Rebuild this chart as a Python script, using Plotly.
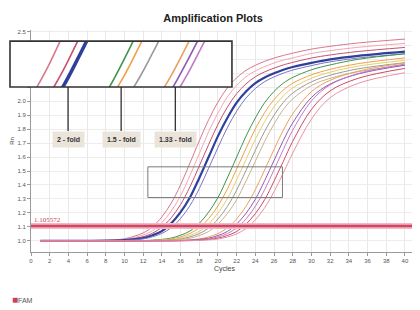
import plotly.graph_objects as go

# ---------------- data ----------------
cycles = [1, 6, 8, 10, 12, 13, 14, 15, 16, 17, 18, 19, 20, 21, 22, 23, 24, 25, 26, 27, 28, 30, 32, 35, 40]

curve_A = [1.000, 1.000, 1.003, 1.015, 1.057, 1.101, 1.172, 1.270, 1.401, 1.557, 1.716, 1.867, 1.994, 2.095, 2.168, 2.221, 2.257, 2.286, 2.309, 2.328, 2.344, 2.373, 2.393, 2.417, 2.445]
curve_B = [1.000, 1.000, 1.002, 1.010, 1.042, 1.073, 1.130, 1.213, 1.322, 1.468, 1.624, 1.780, 1.915, 2.030, 2.113, 2.175, 2.217, 2.248, 2.274, 2.295, 2.310, 2.342, 2.362, 2.386, 2.414]
curve_C = [1.000, 1.000, 1.002, 1.007, 1.030, 1.055, 1.097, 1.165, 1.260, 1.386, 1.536, 1.689, 1.834, 1.957, 2.054, 2.124, 2.175, 2.210, 2.237, 2.260, 2.278, 2.309, 2.331, 2.356, 2.385]
curve_D = [1.000, 1.000, 1.001, 1.005, 1.020, 1.040, 1.070, 1.125, 1.205, 1.310, 1.450, 1.600, 1.750, 1.880, 1.990, 2.070, 2.130, 2.170, 2.200, 2.225, 2.245, 2.275, 2.300, 2.325, 2.355]
curve_E = [1.000, 1.000, 1.000, 1.003, 1.014, 1.029, 1.053, 1.094, 1.160, 1.252, 1.374, 1.520, 1.668, 1.810, 1.929, 2.023, 2.091, 2.140, 2.174, 2.201, 2.223, 2.255, 2.282, 2.309, 2.339]
curve_F = [1.000, 1.000, 1.000, 1.000, 1.002, 1.005, 1.010, 1.020, 1.040, 1.070, 1.125, 1.205, 1.310, 1.450, 1.600, 1.750, 1.880, 1.990, 2.070, 2.130, 2.170, 2.225, 2.260, 2.300, 2.340]
curve_G = [1.000, 1.000, 1.000, 1.000, 1.001, 1.003, 1.007, 1.014, 1.028, 1.053, 1.093, 1.159, 1.250, 1.370, 1.515, 1.662, 1.802, 1.919, 2.012, 2.080, 2.129, 2.189, 2.228, 2.269, 2.310]
curve_H = [1.000, 1.000, 1.000, 1.000, 1.001, 1.002, 1.005, 1.010, 1.019, 1.039, 1.068, 1.121, 1.199, 1.301, 1.437, 1.582, 1.728, 1.854, 1.960, 2.038, 2.096, 2.164, 2.208, 2.251, 2.293]
curve_I = [1.000, 1.000, 1.000, 1.000, 1.000, 1.001, 1.003, 1.007, 1.013, 1.028, 1.052, 1.091, 1.156, 1.245, 1.363, 1.504, 1.648, 1.785, 1.900, 1.992, 2.058, 2.139, 2.186, 2.232, 2.276]
curve_J = [1.000, 1.000, 1.000, 1.000, 1.000, 1.001, 1.002, 1.005, 1.010, 1.019, 1.038, 1.067, 1.119, 1.195, 1.295, 1.428, 1.570, 1.713, 1.836, 1.941, 2.017, 2.112, 2.164, 2.211, 2.259]
curve_K = [1.000, 1.000, 1.000, 1.000, 1.000, 1.000, 1.000, 1.001, 1.003, 1.007, 1.014, 1.028, 1.052, 1.092, 1.157, 1.247, 1.367, 1.509, 1.655, 1.793, 1.910, 2.069, 2.150, 2.215, 2.275]
curve_L = [1.000, 1.000, 1.000, 1.000, 1.000, 1.000, 1.000, 1.001, 1.002, 1.005, 1.010, 1.019, 1.038, 1.067, 1.120, 1.197, 1.298, 1.432, 1.576, 1.720, 1.845, 2.027, 2.123, 2.195, 2.258]
curve_M = [1.000, 1.000, 1.000, 1.000, 1.000, 1.000, 1.000, 1.000, 1.001, 1.003, 1.007, 1.014, 1.028, 1.052, 1.092, 1.157, 1.247, 1.367, 1.509, 1.655, 1.793, 2.002, 2.117, 2.198, 2.266]
curve_N = [1.000, 1.000, 1.000, 1.000, 1.000, 1.000, 1.000, 1.000, 1.001, 1.002, 1.005, 1.010, 1.019, 1.038, 1.067, 1.119, 1.195, 1.295, 1.428, 1.570, 1.713, 1.941, 2.074, 2.164, 2.235]
curve_O = [1.000, 1.000, 1.000, 1.000, 1.000, 1.000, 1.000, 1.000, 1.000, 1.001, 1.003, 1.007, 1.013, 1.027, 1.050, 1.088, 1.151, 1.237, 1.352, 1.488, 1.628, 1.872, 2.025, 2.128, 2.204]

curves = [curve_A, curve_B, curve_C, curve_D, curve_E, curve_F, curve_G, curve_H,
          curve_I, curve_J, curve_K, curve_L, curve_M, curve_N, curve_O]
curve_colors = ['#d9788c', '#f2a7b5', '#c8506a', '#2f3f9c', '#7c74c4', '#3f9450', '#f0a048', '#e3cf6a',
                '#9a9a9a', '#c9b28f', '#eba15c', '#8e5cb0', '#c27ac8', '#cf4a62', '#e893a6']
curve_widths = [1, 1, 1, 2.2, 1, 1, 1, 1, 1, 1, 1, 1, 1, 1, 1]
inset_curves = [0, 2, 3, 5, 6, 8, 10, 11, 12]   # which curves are shown in the magnified inset

threshold = 1.105572
zoom_box_x = [12.5, 26.9]      # small grey box on the main plot
zoom_box_y = [1.31, 1.53]
inset_x = [13.6, 27.9]         # range shown inside the magnified inset
inset_y = [1.31, 1.53]
fold_labels = ['2 - fold', '1.5 - fold', '1.33 - fold']
fold_x = [17.34, 20.76, 24.25]

y_ticks = [1.0, 1.1, 1.2, 1.3, 1.4, 1.5, 1.6, 1.7, 1.8, 1.9, 2.0, 2.1, 2.2, 2.3, 2.4, 2.5]
y_ticktext = ['1.0', '1.1', '1.2', '1.3', '1.4', '1.5', '1.6', '1.7', '1.8', '1.9', '2.0', '', '', '', '', '2.5']

legend_name = 'FAM'
legend_color = '#c8415a'

FONT = 'Liberation Sans, Arial, sans-serif'

fig = go.Figure()

for vals, col, w in zip(curves, curve_colors, curve_widths):
    fig.add_trace(go.Scatter(x=cycles, y=vals, mode='lines', line=dict(color=col, width=w, shape='spline'),
                             showlegend=False, hoverinfo='skip', xaxis='x', yaxis='y'))

for i in inset_curves:
    fig.add_trace(go.Scatter(x=cycles, y=curves[i], mode='lines',
                             line=dict(color=curve_colors[i], width=3.5 if i == 3 else 1.6, shape='spline'),
                             showlegend=False, hoverinfo='skip', xaxis='x2', yaxis='y2'))

shapes = [
    dict(type='line', xref='x domain', x0=0, x1=1, yref='y', y0=threshold, y1=threshold,
         line=dict(color='#f2b8c4', width=6), layer='above'),
    dict(type='line', xref='x domain', x0=0, x1=1, yref='y', y0=threshold, y1=threshold,
         line=dict(color='#cf4663', width=2.5), layer='above'),
    dict(type='rect', xref='x', yref='y', x0=zoom_box_x[0], x1=zoom_box_x[1], y0=zoom_box_y[0], y1=zoom_box_y[1],
         line=dict(color='#7a7a7a', width=1), layer='above'),
    dict(type='rect', xref='x2 domain', yref='y2 domain', x0=0, x1=1, y0=0, y1=1,
         line=dict(color='#333333', width=1.6), layer='above'),
]

annotations = [
    dict(x=0, y=threshold, xref='x', yref='y', text='1.105572', showarrow=False, xanchor='left',
         yanchor='bottom', xshift=1, yshift=0, font=dict(family='Liberation Serif, serif', size=7, color='#d04058')),
    dict(x=0, y=-0.212, xref='paper', yref='paper', xanchor='left', yanchor='middle', showarrow=False,
         text='<span style="color:%s;font-size:10px">■</span>%s' % (legend_color, legend_name),
         font=dict(family=FONT, size=7, color='#555')),
]
for lab, fx in zip(fold_labels, fold_x):
    annotations.append(dict(x=fx, y=inset_y[0], xref='x2', yref='y2', text='<b>' + lab + '</b>',
                            showarrow=True, arrowhead=0, arrowwidth=1.2, arrowcolor='#222', ax=0, ay=52,
                            bgcolor='#ebe4da', borderpad=4, font=dict(family=FONT, size=7, color='#333')))

# page body has an 8px margin, so the figure is 8px smaller and its margins are shifted by 8px
fig.update_layout(
    width=412, height=302,
    margin=dict(l=2, r=2, t=22, b=58, autoexpand=False),
    paper_bgcolor='white', plot_bgcolor='white',
    title=dict(text='<b>Amplification Plots</b>', x=0.4976, xanchor='center', y=0.967, yanchor='middle',
               font=dict(family=FONT, size=11, color='#222')),
    xaxis=dict(domain=[0.0515, 1], range=[0, 41.4], tick0=0, dtick=2, showgrid=True, gridcolor='#e8e8e8',
               zeroline=False, showline=True, linecolor='#9a9a9a', linewidth=1, ticks='outside', ticklen=3,
               tickcolor='#9a9a9a', tickfont=dict(family=FONT, size=6, color='#555'), automargin=False,
               title=dict(text='Cycles', font=dict(family=FONT, size=7, color='#444'), standoff=2)),
    yaxis=dict(range=[0.92, 2.51], tickvals=y_ticks, ticktext=y_ticktext, showgrid=True, gridcolor='#ececec',
               zeroline=False, showline=True, linecolor='#9a9a9a', linewidth=1, ticks='outside', ticklen=3,
               tickcolor='#9a9a9a', tickfont=dict(family=FONT, size=6, color='#555'), anchor='x',
               automargin=False,
               title=dict(text='Rn', font=dict(family=FONT, size=6, color='#444'), standoff=2)),
    xaxis2=dict(domain=[0, 0.544], range=inset_x, anchor='y2', visible=False),
    yaxis2=dict(domain=[0.743, 0.950], range=inset_y, anchor='x2', visible=False),
    shapes=shapes, annotations=annotations,
    showlegend=False,
)

fig.write_html('out.html')
